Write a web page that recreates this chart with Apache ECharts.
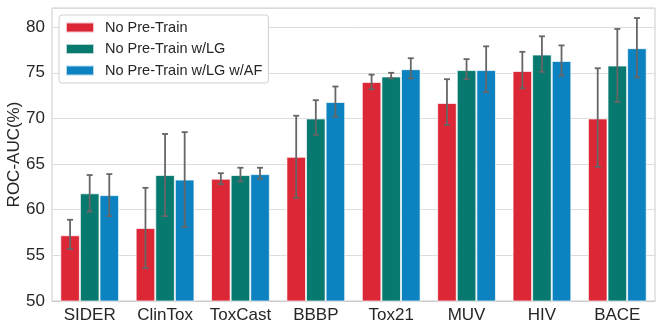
<!DOCTYPE html>
<html>
<head>
<meta charset="utf-8">
<script src="https://cdn.jsdelivr.net/npm/echarts@6/dist/echarts.min.js"></script>
<style>
  html, body { margin: 0; padding: 0; background: #fff; }
  #chart { width: 664px; height: 332px; }
</style>
</head>
<body>
<div id="chart"></div>
<script>
// datasets on the x axis
var categories = ['SIDER', 'ClinTox', 'ToxCast', 'BBBP', 'Tox21', 'MUV', 'HIV', 'BACE'];
var seriesNames = ['No Pre-Train', 'No Pre-Train w/LG', 'No Pre-Train w/LG w/AF'];

// mean ROC-AUC
var noPre = [57.2, 58.0, 63.4, 65.8, 74.0, 71.7, 75.2, 70.0];
var noPreLG = [61.8, 63.8, 63.8, 70.0, 74.6, 75.3, 77.0, 75.8];
var noPreLGAF = [61.6, 63.3, 63.9, 71.8, 75.4, 75.3, 76.3, 77.7];

// error bar ends (low / high)
var noPreLo = [55.7, 53.6, 62.8, 61.3, 73.2, 69.3, 73.3, 64.7];
var noPreHi = [58.9, 62.4, 64.0, 70.3, 74.8, 74.3, 77.3, 75.5];
var noPreLGLo = [59.8, 59.3, 63.1, 68.2, 74.4, 74.3, 75.1, 71.8];
var noPreLGHi = [63.8, 68.3, 64.6, 72.0, 75.0, 76.5, 79.0, 79.8];
var noPreLGAFLo = [59.3, 58.1, 63.4, 70.2, 74.4, 72.9, 74.7, 74.5];
var noPreLGAFHi = [63.9, 68.5, 64.6, 73.5, 76.6, 77.9, 78.0, 81.0];

var colors = ['#dc2736', '#08796f', '#0c82c0'];
var font = 'Liberation Sans, Arial, sans-serif';
var gapRatio = 0.22;

var myChart = echarts.init(document.getElementById('chart'), null, {renderer: 'canvas'});

function errSeries(idx, lo, hi) {
    var data = [];
    for (var i = 0; i < categories.length; i++) {
        data.push([i, lo[i], hi[i]]);
    }
    return {
        type: 'custom',
        name: 'err' + idx,
        z: 10,
        silent: true,
        data: data,
        renderItem: function (params, api) {
            var band = api.size([1, 0])[0];
            var bw = band * (1 - gapRatio) / 3;
            var top = api.coord([api.value(0), api.value(2)]);
            var bot = api.coord([api.value(0), api.value(1)]);
            var x = top[0] + (idx - 1) * bw;
            var cap = 3;
            var st = {stroke: '#666', lineWidth: 1.8};
            return {
                type: 'group',
                children: [
                    {type: 'line', shape: {x1: x, y1: top[1], x2: x, y2: bot[1]}, style: st},
                    {type: 'line', shape: {x1: x - cap, y1: top[1], x2: x + cap, y2: top[1]}, style: st},
                    {type: 'line', shape: {x1: x - cap, y1: bot[1], x2: x + cap, y2: bot[1]}, style: st}
                ]
            };
        }
    };
}

function barSeries(idx, vals) {
    return {
        type: 'bar',
        name: seriesNames[idx],
        data: vals,
        barGap: '0%',
        barCategoryGap: (gapRatio * 100) + '%',
        itemStyle: {color: colors[idx], borderColor: 'rgba(255,255,255,0.7)', borderWidth: 1}
    };
}

var option = {
    animation: false,
    backgroundColor: '#fff',
    textStyle: {fontFamily: font},
    grid: {
        left: 52, right: 9, top: 8, bottom: 31,
        outerBoundsMode: 'none',
        containLabel: false,
        show: true, borderColor: '#cccccc', borderWidth: 1
    },
    legend: {
        data: seriesNames,
        orient: 'vertical',
        left: 59,
        top: 15,
        padding: [5, 6, 5, 6],
        itemWidth: 28,
        itemHeight: 10,
        itemGap: 6.5,
        icon: 'rect',
        backgroundColor: '#fff',
        borderColor: '#d0d0d0',
        borderWidth: 1,
        borderRadius: 3,
        textStyle: {fontSize: 14.5, color: '#262626', fontFamily: font, lineHeight: 14, padding: [0, 0, 0, 6]}
    },
    xAxis: {
        type: 'category',
        data: categories,
        axisLine: {lineStyle: {color: '#cccccc'}},
        axisTick: {show: false},
        axisLabel: {interval: 0, fontSize: 17, color: '#262626', margin: 6, fontFamily: font}
    },
    yAxis: {
        type: 'value',
        min: 50,
        max: 82.1,
        interval: 5,
        name: 'ROC-AUC(%)',
        nameLocation: 'middle',
        nameGap: 29,
        nameMoveOverlap: false,
        nameTextStyle: {fontSize: 17, color: '#262626', fontFamily: font},
        axisLine: {show: false},
        axisTick: {show: false},
        axisLabel: {fontSize: 17, color: '#262626', margin: 7, showMaxLabel: false, fontFamily: font},
        splitLine: {lineStyle: {color: '#dcdcdc', width: 1}}
    },
    series: [
        barSeries(0, noPre),
        barSeries(1, noPreLG),
        barSeries(2, noPreLGAF),
        errSeries(0, noPreLo, noPreHi),
        errSeries(1, noPreLGLo, noPreLGHi),
        errSeries(2, noPreLGAFLo, noPreLGAFHi)
    ]
};

myChart.setOption(option);
</script>
</body>
</html>
